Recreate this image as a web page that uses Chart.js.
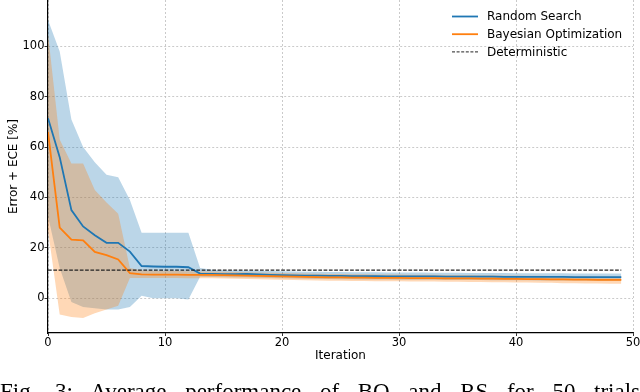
<!DOCTYPE html>
<html>
<head>
<meta charset="utf-8">
<script src="https://cdn.jsdelivr.net/npm/chart.js@4.4.1/dist/chart.umd.min.js"></script>
<style>
  html, body { margin: 0; padding: 0; background: #fff; }
  #wrap { position: relative; width: 640px; height: 392px; overflow: hidden; }
  #caption {
    position: absolute; left: 0; top: 380px; width: 640px;
    font-family: "Liberation Serif", serif; font-size: 23px; line-height: 1;
    text-align: justify; text-align-last: justify; color: #000; white-space: nowrap;
  }
</style>
</head>
<body>
<div id="wrap">
  <canvas id="canvas" width="640" height="392"></canvas>
  <div id="caption">Fig. 3: Average performance of BO and RS for 50 trials</div>
</div>
<script>
// x categories
var iterations = [0, 1, 2, 3, 4, 5, 6, 7, 8, 9, 10, 11, 12, 13, 14, 15, 16, 17, 18, 19,
  20, 21, 22, 23, 24, 25, 26, 27, 28, 29, 30, 31, 32, 33, 34, 35, 36, 37, 38, 39,
  40, 41, 42, 43, 44, 45, 46, 47, 48, 49];

// Random Search: mean and band
var rsMean = [71.5, 56, 35, 28.5, 25, 22, 22, 18.5, 12.8, 12.6, 12.5, 12.5, 12.3, 9.8, 9.7, 9.6, 9.6, 9.7, 9.5, 9.3,
  9.2, 9.1, 9.0, 9.0, 8.9, 8.9, 8.8, 8.8, 8.8, 8.7, 8.7, 8.7, 8.7, 8.7, 8.6, 8.6, 8.6, 8.6, 8.6, 8.5,
  8.5, 8.5, 8.5, 8.5, 8.5, 8.4, 8.4, 8.4, 8.4, 8.4];
var rsUpper = [110.5, 98, 71, 60, 54, 49, 48, 39, 26, 26, 26, 26, 26, 12, 11.3, 11.1, 11.0, 11.0, 10.9, 10.8,
  10.7, 10.6, 10.5, 10.5, 10.4, 10.4, 10.3, 10.3, 10.3, 10.2, 10.2, 10.2, 10.2, 10.1, 10.1, 10.1, 10.0, 10.0, 10.0, 10.0,
  9.9, 9.9, 9.9, 9.9, 9.9, 9.8, 9.8, 9.8, 9.8, 9.8];
var rsLower = [32.5, 12, -1.5, -3.5, -4, -4.5, -4.5, -3.5, 1, 0, 0, 0, -0.5, 8.5, 8.4, 8.3, 8.2, 8.2, 8.1, 8.0,
  7.9, 7.8, 7.7, 7.6, 7.6, 7.5, 7.5, 7.4, 7.4, 7.4, 7.3, 7.3, 7.3, 7.3, 7.2, 7.2, 7.2, 7.2, 7.1, 7.1,
  7.1, 7.1, 7.0, 7.0, 7.0, 7.0, 7.0, 6.9, 6.9, 6.9];

// Bayesian Optimization: mean and band
var boMean = [66, 28, 23.3, 23, 18.4, 17.1, 15.4, 10, 9.5, 9.4, 9.4, 9.4, 9.3, 9.3, 9.3, 9.2, 9.1, 9.0, 8.9, 8.8,
  8.7, 8.6, 8.5, 8.4, 8.3, 8.3, 8.2, 8.2, 8.1, 8.1, 8.1, 8.0, 8.0, 8.0, 7.9, 7.9, 7.9, 7.8, 7.8, 7.7,
  7.7, 7.6, 7.6, 7.5, 7.5, 7.4, 7.4, 7.3, 7.3, 7.3];
var boUpper = [105, 63, 53.5, 53.5, 43, 38, 33.5, 12, 11, 10.9, 10.8, 10.8, 10.7, 10.6, 10.6, 10.5, 10.4, 10.3, 10.2, 10.1,
  10.0, 9.9, 9.8, 9.7, 9.6, 9.6, 9.5, 9.5, 9.4, 9.4, 9.4, 9.3, 9.3, 9.3, 9.2, 9.2, 9.2, 9.1, 9.1, 9.0,
  9.0, 8.9, 8.9, 8.8, 8.8, 8.7, 8.7, 8.6, 8.6, 8.6];
var boLower = [27, -6.5, -7.4, -7.8, -6, -4.5, -3, 8, 8, 8, 8, 8, 7.9, 7.9, 7.9, 7.8, 7.7, 7.6, 7.5, 7.4,
  7.3, 7.2, 7.1, 7.0, 6.9, 6.9, 6.8, 6.8, 6.7, 6.7, 6.7, 6.6, 6.6, 6.6, 6.5, 6.5, 6.4, 6.4, 6.3, 6.3,
  6.2, 6.2, 6.1, 6.1, 6.0, 6.0, 5.9, 5.9, 5.8, 5.8];

// deterministic baseline
var detX = [0, 49];
var detY = [11.2, 11.2];

var xTicks = [0, 10, 20, 30, 40, 50];
var yTicks = [0, 20, 40, 60, 80, 100];

var legendItems = [
  { label: 'Random Search', color: '#1f77b4', dash: [] },
  { label: 'Bayesian Optimization', color: '#ff7f0e', dash: [] },
  { label: 'Deterministic', color: '#222222', dash: [3, 1.6] }
];

function pts(xs, ys) {
  return xs.map(function (x, i) { return { x: x, y: ys[i] }; });
}

var FONT = 'DejaVu Sans';

var legendPlugin = {
  id: 'mplLegend',
  afterDraw: function (chart) {
    var ctx = chart.ctx;
    ctx.save();
    ctx.font = '12px "' + FONT + '"';
    ctx.textBaseline = 'middle';
    ctx.fillStyle = '#000';
    legendItems.forEach(function (it, i) {
      var y = 16.5 + i * 17.7;
      ctx.beginPath();
      ctx.strokeStyle = it.color;
      ctx.lineWidth = it.dash.length ? 1 : 1.8;
      ctx.setLineDash(it.dash);
      ctx.moveTo(452, y);
      ctx.lineTo(478, y);
      ctx.stroke();
      ctx.setLineDash([]);
      ctx.fillText(it.label, 487, y + 0.5);
    });
    ctx.restore();
  }
};

var config = {
  type: 'line',
  data: {
    datasets: [{
      label: 'rsLower',
      data: pts(iterations, rsLower),
      borderWidth: 0, pointRadius: 0, fill: false, order: 10
    }, {
      label: 'rsUpper',
      data: pts(iterations, rsUpper),
      borderWidth: 0, pointRadius: 0,
      backgroundColor: 'rgba(31,119,180,0.3)',
      fill: '-1', order: 10
    }, {
      label: 'boLower',
      data: pts(iterations, boLower),
      borderWidth: 0, pointRadius: 0, fill: false, order: 9
    }, {
      label: 'boUpper',
      data: pts(iterations, boUpper),
      borderWidth: 0, pointRadius: 0,
      backgroundColor: 'rgba(255,127,14,0.3)',
      fill: '-1', order: 9
    }, {
      label: 'Random Search',
      data: pts(iterations, rsMean),
      borderColor: '#1f77b4', borderWidth: 1.8, pointRadius: 0, fill: false, order: 2
    }, {
      label: 'Bayesian Optimization',
      data: pts(iterations, boMean),
      borderColor: '#ff7f0e', borderWidth: 1.8, pointRadius: 0, fill: false, order: 1
    }, {
      label: 'Deterministic',
      data: pts(detX, detY),
      borderColor: '#222222', borderWidth: 1.2, borderDash: [3.7, 1.6],
      pointRadius: 0, fill: false, order: 0
    }]
  },
  options: {
    responsive: false,
    animation: false,
    devicePixelRatio: 1,
    layout: { padding: { top: 0, right: 7, bottom: 0, left: 0 } },
    elements: { line: { tension: 0 } },
    plugins: {
      legend: { display: false },
      tooltip: { enabled: false }
    },
    scales: {
      x: {
        type: 'linear',
        min: 0, max: 50,
        afterBuildTicks: function (axis) { axis.ticks = xTicks.map(function (v) { return { value: v }; }); },
        afterFit: function (axis) { axis.height = 59; axis.paddingLeft = 0; axis.paddingRight = 0; },
        ticks: { color: '#000', font: { family: FONT, size: 11.5 }, padding: 0, maxRotation: 0 },
        grid: { color: '#bdbdbd', lineWidth: 0.8, tickLength: 3, tickColor: '#000', tickBorderDash: [] },
        border: { display: true, color: '#000', width: 1.2, dash: [2, 2] },
        title: { display: true, text: 'Iteration', color: '#000', font: { family: FONT, size: 12 }, padding: { top: 0, bottom: 29 } }
      },
      y: {
        min: -13.8, max: 118.4,
        afterBuildTicks: function (axis) { axis.ticks = yTicks.map(function (v) { return { value: v }; }); },
        afterFit: function (axis) { axis.width = 48; axis.paddingTop = 0; axis.paddingBottom = 0; },
        ticks: { color: '#000', font: { family: FONT, size: 11.5 }, padding: 0 },
        grid: { color: '#bdbdbd', lineWidth: 0.8, tickLength: 3.5, tickColor: '#000', tickBorderDash: [] },
        border: { display: true, color: '#000', width: 1.2, dash: [2, 2] },
        title: { display: true, text: 'Error + ECE [%]', color: '#000', font: { family: FONT, size: 12 }, padding: { top: 7, bottom: 0 } }
      }
    }
  },
  plugins: [legendPlugin]
};

window.onload = function () {
  var ctx = document.getElementById('canvas').getContext('2d');
  window.myLine = new Chart(ctx, config);
};
</script>
</body>
</html>
